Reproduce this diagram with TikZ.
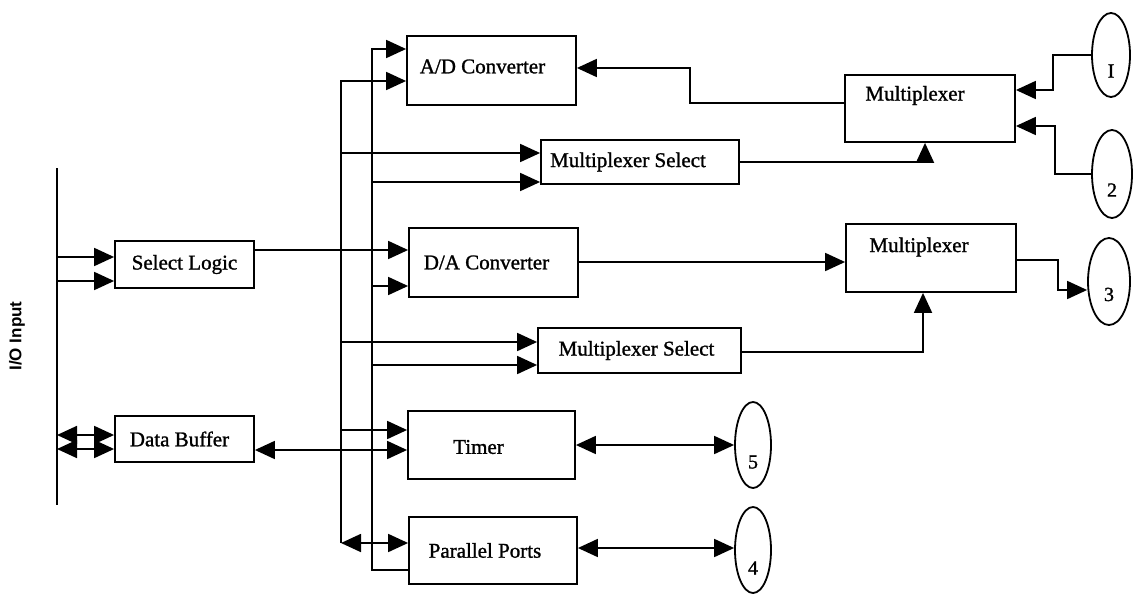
\documentclass[tikz,border=0pt]{standalone}
\usepackage{fontspec}
\setmainfont{Liberation Serif}
\newfontfamily\inkserif{Liberation Serif}[FakeBold=1.2]
\newfontfamily\labelsans{Liberation Sans}
\usetikzlibrary{arrows.meta,shapes.geometric}

\begin{document}
\begin{tikzpicture}[x=1pt,y=-1pt,
  line width=1.8pt,
  >={Triangle[length=20pt,width=18pt]},
  box/.style={draw, rectangle, inner sep=0pt, line width=1.8pt},
  port/.style={draw, ellipse, inner sep=0pt, line width=1.8pt},
  txt/.style={font=\inkserif\fontsize{21}{24}\selectfont, inner sep=0pt},
  num/.style={font=\inkserif\fontsize{20}{22}\selectfont, inner sep=0pt}]

\useasboundingbox (0,0) rectangle (1134,607);

% side label of the I/O bus
\node[rotate=90, font=\labelsans\bfseries\fontsize{17}{18}\selectfont] (io) at (17,336) {I/O Input};

% functional blocks
\node[box, minimum width=139pt, minimum height=47pt,
      label={[txt]center:Select Logic}] (sel) at (184.5,264.5) {};
\node[box, minimum width=139pt, minimum height=46pt,
      label={[txt, xshift=-5pt]center:Data Buffer}] (buf) at (184.5,439) {};
\node[box, minimum width=169pt, minimum height=69pt,
      label={[txt, xshift=-9pt, yshift=4pt]center:A/D Converter}] (ad) at (491.5,70.5) {};
\node[box, minimum width=198pt, minimum height=44pt,
      label={[txt, xshift=-12pt]center:Multiplexer Select}] (mS1) at (640,162) {};
\node[box, minimum width=169pt, minimum height=69pt,
      label={[txt, xshift=-7pt]center:D/A Converter}] (da) at (493.5,262.5) {};
\node[box, minimum width=203pt, minimum height=45pt,
      label={[txt, xshift=-3pt]center:Multiplexer Select}] (mS2) at (639.5,350.5) {};
\node[box, minimum width=167pt, minimum height=68pt,
      label={[txt, xshift=-13pt, yshift=-2pt]center:Timer}] (tim) at (491.5,445) {};
\node[box, minimum width=168pt, minimum height=67pt,
      label={[txt, xshift=-8pt]center:Parallel Ports}] (pp) at (493,550.5) {};
\node[box, minimum width=170pt, minimum height=67pt,
      label={[txt, xshift=-15pt, yshift=13pt]center:Multiplexer}] (mux1) at (930,108.5) {};
\node[box, minimum width=170pt, minimum height=68pt,
      label={[txt, xshift=-12pt, yshift=11pt]center:Multiplexer}] (mux2) at (931,258) {};

% external channels
\node[port, minimum width=38pt, minimum height=84pt,
      label={[num, yshift=-16pt]center:I}] (c1) at (1111,55) {};
\node[port, minimum width=40pt, minimum height=88pt,
      label={[num, yshift=-16pt]center:2}] (c2) at (1112,174) {};
\node[port, minimum width=42pt, minimum height=87pt,
      label={[num, yshift=-13pt]center:3}] (c3) at (1109,281.5) {};
\node[port, minimum width=36pt, minimum height=86pt,
      label={[num, yshift=-17pt]center:5}] (c5) at (753,445) {};
\node[port, minimum width=36pt, minimum height=86pt,
      label={[num, yshift=-18pt]center:4}] (c4) at (753,550) {};

% I/O bus and the two internal distribution lines
\coordinate (busT) at (57,168);
\coordinate (busB) at (57,505);
\coordinate (lnA) at (341,0);
\coordinate (lnB) at (372,0);
\draw (busT) -- (busB);

% bus to select logic and data buffer
\draw[->] (busT |- 0,257) -- (sel.west |- 0,257);
\draw[->] (busT |- 0,281) -- (sel.west |- 0,281);
\draw[<->] (busT |- 0,435) -- (buf.west |- 0,435);
\draw[<->] (busT |- 0,449) -- (buf.west |- 0,449);

% select logic and data buffer outputs
\draw[->] (sel.east |- 0,250) -- (da.west |- 0,250);
\draw[<->] (buf.east |- 0,450) -- (tim.west |- 0,450);

% first distribution line
\draw[->] (lnA |- 0,543) -- (lnA |- 0,81) -- (ad.west |- 0,81);
\draw[<->] (lnA |- 0,543) -- (pp.west |- 0,543);
\draw[->] (lnA |- 0,153) -- (mS1.west |- 0,153);
\draw[->] (lnA |- 0,342) -- (mS2.west |- 0,342);
\draw[->] (lnA |- 0,430) -- (tim.west |- 0,430);

% second distribution line
\draw[->] (pp.west |- 0,570) -- (lnB |- 0,570) -- (lnB |- 0,49) -- (ad.west |- 0,49);
\draw[->] (lnB |- 0,182) -- (mS1.west |- 0,182);
\draw[->] (lnB |- 0,286) -- (da.west |- 0,286);
\draw[->] (lnB |- 0,365) -- (mS2.west |- 0,365);

% analog input path
\draw[->] (mux1.west |- 0,103) -| (690,68) -- (ad.east |- 0,68);
\draw[->] (mS1.east) -| (mux1.south -| 925,0);
\draw[->] (c1.west) -- (1053,55) |- (mux1.east |- 0,90);
\draw[->] (c2.west) -- (1055,174) |- (mux1.east |- 0,126);

% analog output path
\draw[->] (da.east |- 0,262) -- (mux2.west |- 0,262);
\draw[->] (mux2.east |- 0,260) -- (1058,260) |- (c3.west |- 0,290);
\draw[->] (mS2.east |- 0,352) -| (mux2.south -| 923,0);

% timer and parallel ports
\draw[<->] (tim.east) -- (c5.west);
\draw[<->] (pp.east |- 0,548) -- (c4.west |- 0,548);

\end{tikzpicture}
\end{document}
